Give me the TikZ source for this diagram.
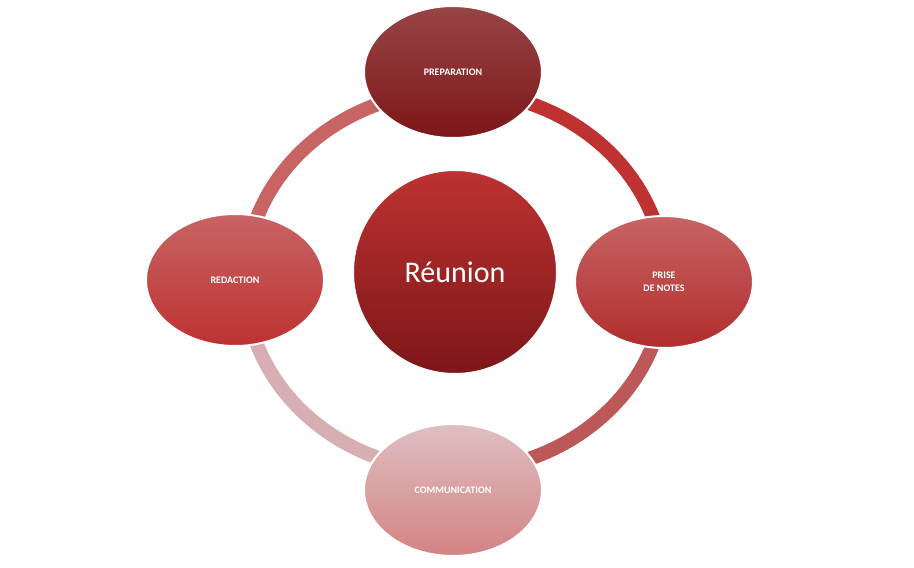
\documentclass[tikz,border=0pt]{standalone}
\usepackage{fontspec}
\setmainfont{Carlito}
\usetikzlibrary{positioning,shapes.geometric}
\definecolor{darkred}{RGB}{125,22,24}
\definecolor{midred}{RGB}{190,50,50}
\definecolor{rosered}{RGB}{200,100,100}
\definecolor{paleros}{RGB}{215,175,178}
\tikzset{
  stage/.style={draw=white,line width=2pt,ellipse,minimum width=178pt,minimum height=132pt,
    text=white,font=\bfseries\fontsize{10}{13}\selectfont,align=center},
  ringseg/.style={line width=14pt}
}
\begin{document}
\begin{tikzpicture}[x=1pt,y=-1pt]
    \useasboundingbox (0,0) rectangle (914,568);
    \coordinate (mid) at (455,281);
    % ring
    \draw[ringseg,color=midred] (mid) ++(210,0) arc[start angle=0,end angle=90,x radius=210,y radius=-190];
    \draw[ringseg,color=rosered] (mid) ++(0,-190) arc[start angle=90,end angle=180,x radius=210,y radius=-190];
    \draw[ringseg,color=paleros] (mid) ++(-210,0) arc[start angle=180,end angle=270,x radius=210,y radius=-190];
    \draw[ringseg,color=rosered!85!darkred] (mid) ++(0,190) arc[start angle=270,end angle=360,x radius=210,y radius=-190];
    \node[stage,top color=darkred!80,bottom color=darkred] (prep) at (453,72) {PREPARATION};
    \node[stage,top color=rosered,bottom color=midred!80!darkred] (notes) at (664,282) {PRISE\\DE NOTES};
    \node[stage,top color=rosered,bottom color=midred] (redac) at (235,280) {REDACTION};
    \node[stage,top color=paleros!80!white,bottom color=rosered!80] (comm) at (453,490) {COMMUNICATION};
    \node[draw=white,line width=2pt,circle,minimum size=204pt,top color=midred,bottom color=darkred,
      text=white,font=\fontsize{30}{36}\selectfont] (reunion) at (455,272) {Réunion};
\end{tikzpicture}
\end{document}
